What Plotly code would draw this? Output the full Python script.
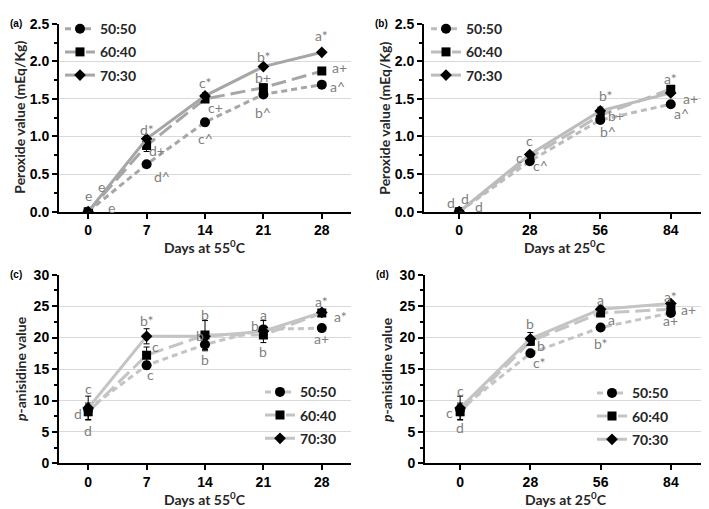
import plotly.graph_objects as go

# storage days
days_55 = [0, 7, 14, 21, 28]
days_25 = [0, 28, 56, 84]
blends = ["50:50", "60:40", "70:30"]

# (a) peroxide value, 55C
pv_55 = {
    "50:50": [0.0, 0.63, 1.19, 1.56, 1.69],
    "60:40": [0.0, 0.88, 1.50, 1.65, 1.87],
    "70:30": [0.0, 0.97, 1.54, 1.93, 2.12],
}
pv_55_err = {
    "50:50": [0.01, 0.03, 0.05, 0.04, 0.02],
    "60:40": [0.01, 0.08, 0.04, 0.05, 0.03],
    "70:30": [0.01, 0.03, 0.04, 0.02, 0.02],
}
# (b) peroxide value, 25C
pv_25 = {
    "50:50": [0.0, 0.67, 1.22, 1.43],
    "60:40": [0.0, 0.72, 1.28, 1.63],
    "70:30": [0.0, 0.76, 1.34, 1.58],
}
pv_25_err = {
    "50:50": [0.01, 0.03, 0.04, 0.03],
    "60:40": [0.01, 0.03, 0.05, 0.03],
    "70:30": [0.01, 0.03, 0.05, 0.03],
}
# (c) p-anisidine value, 55C
av_55 = {
    "50:50": [8.6, 15.6, 18.9, 21.3, 21.5],
    "60:40": [8.2, 17.2, 20.4, 20.4, 23.9],
    "70:30": [8.8, 20.2, 20.2, 21.0, 24.0],
}
av_55_err = {
    "50:50": [1.0, 0.6, 1.0, 1.4, 0.3],
    "60:40": [1.2, 1.3, 2.3, 1.2, 0.5],
    "70:30": [1.9, 1.2, 0.5, 0.5, 0.3],
}
# (d) p-anisidine value, 25C
av_25 = {
    "50:50": [8.6, 17.5, 21.6, 23.9],
    "60:40": [8.2, 19.4, 23.9, 24.5],
    "70:30": [8.8, 19.8, 24.5, 25.4],
}
av_25_err = {
    "50:50": [1.0, 0.4, 0.4, 0.4],
    "60:40": [1.2, 0.6, 0.5, 0.4],
    "70:30": [1.9, 1.0, 0.5, 0.4],
}

# significance letters: (day, value, text)
letters_a = [
    (0, 0.21, "e"), (1.65, 0.34, "e"), (2.85, 0.05, "e"),
    (7, 1.09, "d*"), (8.25, 0.82, "d+"), (8.85, 0.47, "d^"),
    (14, 1.72, "c*"), (15.2, 1.39, "c+"), (14, 0.97, "c^"),
    (21, 2.07, "b*"), (21, 1.78, "b+"), (21, 1.32, "b^"),
    (28, 2.34, "a*"), (30.1, 1.92, "a+"), (29.9, 1.66, "a^"),
]
letters_b = [
    (-3.3, 0.12, "d"), (2.3, 0.18, "d"), (7.8, 0.07, "d"),
    (28, 0.95, "c"), (24.1, 0.72, "c"), (32.1, 0.62, "c^"),
    (57.9, 1.55, "b*"), (62.3, 1.28, "b+"), (59.1, 1.06, "b^"),
    (84, 1.77, "a*"), (92.0, 1.51, "a+"), (88.1, 1.30, "a^"),
]
letters_c = [
    (0, 11.9, "c"), (-1.2, 7.9, "d"), (0, 5.2, "d"),
    (7, 22.7, "b*"), (8.1, 18.6, "c"), (7.5, 14.1, "c"),
    (14, 23.7, "b"), (13.4, 20.4, "b"), (14, 16.5, "b"),
    (21, 23.7, "a"), (20.0, 21.9, "b"), (21, 17.8, "b"),
    (28, 25.7, "a*"), (30.3, 23.3, "a*"), (28, 19.8, "a+"),
]
letters_d = [
    (0, 11.6, "c"), (-4.1, 8.1, "c"), (0, 5.7, "d"),
    (28, 22.2, "b"), (32.4, 18.8, "b"), (31.6, 16.0, "c*"),
    (56, 26.0, "a"), (60.4, 22.9, "a"), (56, 19.1, "b*"),
    (84, 26.6, "a*"), (91.0, 24.5, "a+"), (84, 22.7, "a+"),
]

W, H = 709, 509
TICK_FONT = dict(family="Liberation Sans, Arial", size=14, color="black", weight="bold")
TITLE_FONT = dict(family="Lato, Open Sans", size=14, color="#262626", weight="bold")
LETTER_FONT = dict(family="Lato, Open Sans", size=14, color="#808080")

markers = {"50:50": ("circle", 10), "60:40": ("square", 9), "70:30": ("diamond", 9)}
dashes = {"50:50": "6px,4px", "60:40": "15px,6px", "70:30": "solid"}


def px_x(p):
    return p / W


def px_y(p):
    return 1 - p / H


panels = [
    # name, x days, values, errors, letters, x0, x1, ytop, ybot, yrange, dtick, color, ytitle, xtitle, tag, xrange
    ("1", days_55, pv_55, pv_55_err, letters_a, 51, 343, 8, 202, [0, 2.5], 0.5, "#a6a6a6",
     "Peroxide value (mEq/Kg)", "Days at 55<sup>0</sup>C", "(a)", [-3.5, 31.5]),
    ("2", days_25, pv_25, pv_25_err, letters_b, 416, 698, 8, 202, [0, 2.5], 0.5, "#bcbcbc",
     "Peroxide value (mEq/Kg)", "Days at 25<sup>0</sup>C", "(b)", [-14, 98]),
    ("3", days_55, av_55, av_55_err, letters_c, 51, 343, 267, 462, [0, 30], 5, "#c4c4c4",
     "<i>p</i>-anisidine value", "Days at 55<sup>0</sup>C", "(c)", [-3.5, 31.5]),
    ("4", days_25, av_25, av_25_err, letters_d, 417, 698, 267, 462, [0, 30], 5, "#c4c4c4",
     "<i>p</i>-anisidine value", "Days at 25<sup>0</sup>C", "(d)", [-14, 98]),
]

legend_pos = {
    "1": (52, -3), "2": (418, -3), "3": (252, 372), "4": (584, 373),
}

fig = go.Figure()
layout = {}
annotations = []

for name, days, vals, errs, letters, x0, x1, yt, yb, yr, dt, color, ytitle, xtitle, tag, xr in panels:
    sfx = "" if name == "1" else name
    xa, ya = "x" + sfx, "y" + sfx
    leg = "legend" if name == "1" else "legend" + name
    for b in blends:
        sym, size = markers[b]
        fig.add_trace(go.Scatter(
            x=days, y=vals[b], name=b, xaxis=xa, yaxis=ya, mode="lines+markers",
            line=dict(color=color, width=3, dash=dashes[b]),
            marker=dict(symbol=sym, size=size, color="black"),
            error_y=dict(type="data", array=errs[b], color="black", thickness=1, width=3),
            legend=leg, legendgroup=name + b,
        ))
    layout["xaxis" + sfx] = dict(
        domain=[px_x(x0), px_x(x1)], anchor=ya, range=xr, tickvals=days,
        showgrid=False, zeroline=False, showline=True, linecolor="black", linewidth=2,
        ticks="outside", ticklen=5, tickwidth=1.5, tickcolor="black", tickfont=TICK_FONT,
    )
    layout["yaxis" + sfx] = dict(
        domain=[px_y(yb), px_y(yt)], anchor=xa, range=yr, dtick=dt,
        tickformat=".1f" if dt < 1 else "d",
        showgrid=True, gridcolor="#d9d9d9", gridwidth=1, zeroline=False,
        showline=True, linecolor="black", linewidth=2,
        ticks="outside", ticklen=5, tickwidth=1.5, tickcolor="black", tickfont=TICK_FONT,
        minor=dict(dtick=dt / 2, ticks="outside", ticklen=3, tickcolor="black", showgrid=False),
    )
    lx, ly = legend_pos[name]
    layout[leg] = dict(
        x=px_x(lx), y=px_y(ly), xanchor="left", yanchor="top", bgcolor="rgba(0,0,0,0)",
        font=dict(family="Lato, Open Sans", size=14, color="#262626", weight="bold"),
        tracegroupgap=2, itemwidth=30,
    )
    for dx, dy, txt in letters:
        annotations.append(dict(x=dx, y=dy, xref=xa, yref=ya, text=txt, showarrow=False,
                                font=LETTER_FONT))
    # axis titles
    annotations.append(dict(x=px_x((x0 + x1) / 2), y=px_y(yb + 36), xref="paper", yref="paper",
                            text=xtitle, showarrow=False, font=TITLE_FONT,
                            xanchor="center", yanchor="middle"))
    annotations.append(dict(x=px_x(x0 - 39), y=px_y((yt + yb) / 2), xref="paper", yref="paper",
                            text=ytitle, showarrow=False, font=TITLE_FONT, textangle=-90,
                            xanchor="center", yanchor="middle"))
    annotations.append(dict(x=px_x(x0 - 51), y=px_y(yt), xref="paper", yref="paper",
                            text=tag, showarrow=False,
                            font=dict(family="Liberation Sans, Arial", size=10, color="black",
                                      weight="bold"),
                            xanchor="left", yanchor="middle"))

fig.update_layout(
    width=W, height=H, margin=dict(l=0, r=0, t=0, b=0),
    plot_bgcolor="white", paper_bgcolor="white", showlegend=True,
    annotations=annotations, **layout,
)

fig.write_html("out.html")
